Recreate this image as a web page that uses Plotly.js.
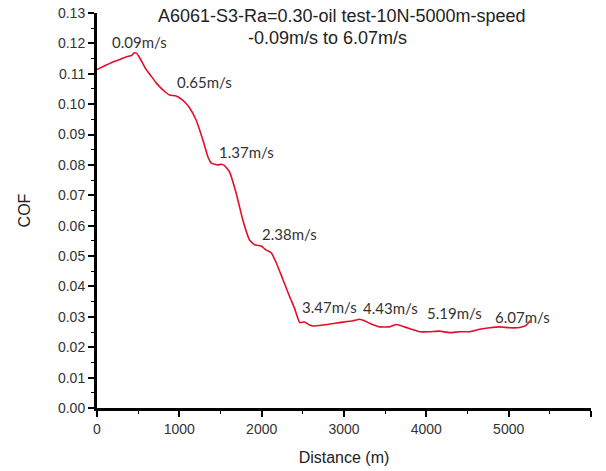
<!DOCTYPE html>
<html>
<head>
<meta charset="utf-8">
<script src="https://cdn.plot.ly/plotly-3.0.1.min.js"></script>
<style>html,body{margin:0;padding:0;background:#fff;}#chart{width:606px;height:471px;}</style>
</head>
<body>
<div id="chart"></div>
<script>
// Distance (m)
const distance = [0, 100, 192, 280, 360, 420, 450, 480, 520, 590, 650, 719, 780, 830, 881, 960, 1023, 1063, 1124, 1205, 1286, 1347, 1388, 1430, 1468, 1510, 1549, 1610, 1691, 1772, 1853, 1914, 1995, 2035, 2070, 2116, 2177, 2258, 2339, 2400, 2461, 2521, 2582, 2623, 2744, 2850, 2947, 3109, 3190, 3250, 3311, 3432, 3554, 3635, 3736, 3830, 3918, 4040, 4162, 4283, 4405, 4526, 4648, 4769, 4891, 5012, 5134, 5215, 5260];
// COF
const cof = [0.1114, 0.1127, 0.1139, 0.1147, 0.1156, 0.1160, 0.1168, 0.1168, 0.1152, 0.1117, 0.1095, 0.1070, 0.1052, 0.1040, 0.1030, 0.1027, 0.1017, 0.1008, 0.0988, 0.0947, 0.0882, 0.0827, 0.0806, 0.0802, 0.0800, 0.0802, 0.0798, 0.0777, 0.0706, 0.0618, 0.0553, 0.0537, 0.0533, 0.0524, 0.0518, 0.0511, 0.0478, 0.0423, 0.0367, 0.0328, 0.0282, 0.0283, 0.0273, 0.0270, 0.0273, 0.0277, 0.0281, 0.0287, 0.0292, 0.0287, 0.0279, 0.0267, 0.0267, 0.0275, 0.0267, 0.0258, 0.0251, 0.0251, 0.0253, 0.0248, 0.0251, 0.0251, 0.0259, 0.0264, 0.0267, 0.0264, 0.0265, 0.0273, 0.0287];
// Speed labels and where they sit
const speedLabels = ["0.09m/s", "0.65m/s", "1.37m/s", "2.38m/s", "3.47m/s", "4.43m/s", "5.19m/s", "6.07m/s"];
const labelX = [516, 1306, 1817, 2339, 2825, 3566, 4344, 5170];
const labelY = [0.1204, 0.1072, 0.0842, 0.0572, 0.0332, 0.0329, 0.0313, 0.0299];
const titleLine1 = "A6061-S3-Ra=0.30-oil test-10N-5000m-speed";
const titleLine2 = "-0.09m/s to 6.07m/s";

const annotations = speedLabels.map((t, i) => ({
  text: t, x: labelX[i], y: labelY[i], xref: 'x', yref: 'y',
  showarrow: false, xanchor: 'center', yanchor: 'middle',
  font: {family: 'Lato, "Open Sans", sans-serif', size: 15, color: '#333'}
}));
annotations.push({
  text: titleLine2, xref: 'paper', yref: 'paper', x: 0.467, y: 0.937,
  xanchor: 'center', yanchor: 'middle', showarrow: false,
  font: {family: 'Arial, "Liberation Sans", sans-serif', size: 18, color: '#222'}
});

const axisFont = {family: 'Arial, "Liberation Sans", sans-serif', size: 14, color: '#333'};

Plotly.newPlot('chart', [{
  x: distance, y: cof, type: 'scatter', mode: 'lines',
  line: {color: '#e0102a', width: 1.6, shape: 'spline', smoothing: 0.4},
  hoverinfo: 'none'
}], {
  width: 606, height: 471,
  margin: {l: 97, r: 15, t: 13, b: 63},
  paper_bgcolor: '#fff', plot_bgcolor: '#fff',
  showlegend: false,
  title: {
    text: titleLine1, xref: 'container', yref: 'container',
    x: 0.564, y: 1 - 16/471, xanchor: 'center', yanchor: 'middle',
    font: {family: 'Arial, "Liberation Sans", sans-serif', size: 18, color: '#222'}
  },
  xaxis: {
    range: [0, 6000], dtick: 1000, tick0: 0,
    showgrid: false, zeroline: false,
    showline: true, linecolor: '#000', linewidth: 3,
    ticks: 'outside', ticklen: 6, tickwidth: 2, tickcolor: '#000',
    minor: {ticks: 'outside', ticklen: 3, tickwidth: 1, tickcolor: '#000', dtick: 500, showgrid: false},
    tickfont: axisFont,
    title: {text: 'Distance (m)', standoff: 17, font: {family: 'Arial, "Liberation Sans", sans-serif', size: 16, color: '#222'}}
  },
  yaxis: {
    range: [0, 0.13], dtick: 0.01, tick0: 0, tickformat: '.2f',
    showgrid: false, zeroline: false,
    showline: true, linecolor: '#000', linewidth: 3,
    ticks: 'outside', ticklen: 6, tickwidth: 2, tickcolor: '#000',
    minor: {ticks: 'outside', ticklen: 3, tickwidth: 1, tickcolor: '#000', dtick: 0.005, showgrid: false},
    tickfont: axisFont,
    title: {text: 'COF', standoff: 24, font: {family: 'Arial, "Liberation Sans", sans-serif', size: 16, color: '#222'}}
  },
  annotations: annotations
}, {staticPlot: true, displayModeBar: false});
</script>
</body>
</html>
